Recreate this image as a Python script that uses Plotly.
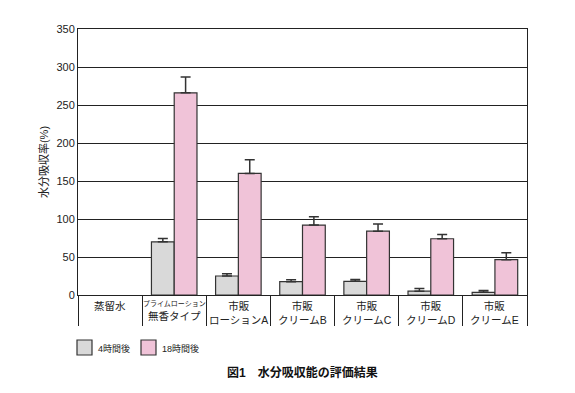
import plotly.graph_objects as go

categories = ["蒸留水",
              "<span style='font-size:7px'>プライムローション</span><br>無香タイプ",
              "市販<br>ローションA", "市販<br>クリームB", "市販<br>クリームC",
              "市販<br>クリームD", "市販<br>クリームE"]
series_names = ["4時間後", "18時間後"]
vals_4h = [None, 70, 25, 17.5, 18, 5, 3.5]
err_4h = [None, 4.5, 3, 2.5, 2.5, 3.5, 2.5]
vals_18h = [None, 266, 160, 92, 84, 74, 46.5]
err_18h = [None, 21, 18, 11, 9.5, 5.5, 9]
y_ticks = [0, 50, 100, 150, 200, 250, 300, 350]
y_title = "水分吸収率(%)"
fig_title = "<b>図1　水分吸収能の評価結果</b>"

colors = ["#d9d9d9", "#f0c3d8"]
font_fam = "Liberation Sans, Arial, Noto Sans CJK JP"
xs = list(range(len(categories)))

PH = 266.0  # plot height px
PW = 449.0  # plot width px

fig = go.Figure()
for name, vals, errs, col in zip(series_names, [vals_4h, vals_18h], [err_4h, err_18h], colors):
    fig.add_trace(go.Bar(
        x=xs, y=vals, name=name, showlegend=False,
        marker=dict(color=col, line=dict(color="#333333", width=1.2)),
        error_y=dict(type="data", array=errs, arrayminus=[0]*len(errs), symmetric=False,
                     color="#333333", thickness=1.5, width=5),
    ))

for i, c in enumerate(categories):
    fig.add_annotation(x=i, y=0, xref="x", yref="paper", yanchor="top", yshift=-2.5,
                       text=c, showarrow=False, align="center",
                       font=dict(size=10.5, color="#222", family=font_fam))

# manual legend
leg_x = [(77 - 78) / PW, (141 - 78) / PW]
for k, (name, col) in enumerate(zip(series_names, colors)):
    x0 = leg_x[k]
    fig.add_shape(type="rect", xref="paper", yref="paper",
                  x0=x0, x1=x0 + 15 / PW, y0=(295 - 340) / PH, y1=(295 - 355) / PH,
                  fillcolor=col, line=dict(color="#333333", width=1.2))
    fig.add_annotation(x=x0 + 19 / PW, y=(295 - 348) / PH, xref="paper", yref="paper",
                       xanchor="left", yanchor="middle", text=name, showarrow=False,
                       font=dict(size=9, color="#222", family=font_fam))

fig.add_annotation(x=(302 - 78) / PW, xref="paper", y=(295 - 372) / PH, yref="paper",
                   xanchor="center", yanchor="middle",
                   text=fig_title, showarrow=False,
                   font=dict(size=12, color="#111", family=font_fam))

fig.update_layout(
    width=575, height=393,
    margin=dict(l=78, r=48, t=29, b=98),
    paper_bgcolor="white", plot_bgcolor="white",
    barmode="group", bargap=0.29, bargroupgap=0,
    font=dict(family=font_fam, size=11, color="#222"),
    showlegend=False,
    xaxis=dict(range=[-0.5, len(categories) - 0.5],
               tickvals=[i - 0.5 for i in range(len(categories) + 1)],
               showticklabels=False, ticks="outside", ticklen=30, tickwidth=1, tickcolor="#222",
               showline=True, linecolor="#222", linewidth=1, mirror=True,
               showgrid=False, zeroline=False, fixedrange=True),
    yaxis=dict(range=[0, 350], tickvals=y_ticks, ticks="",
               showline=True, linecolor="#222", linewidth=1, mirror=True,
               showgrid=True, gridcolor="#222", gridwidth=1, zeroline=False,
               tickfont=dict(size=11, color="#222"),
               title=dict(text=y_title, font=dict(size=11, color="#222"), standoff=5)),
)

fig.write_html("out.html", config={"displayModeBar": False},
               post_script="document.body.style.margin='0';")
